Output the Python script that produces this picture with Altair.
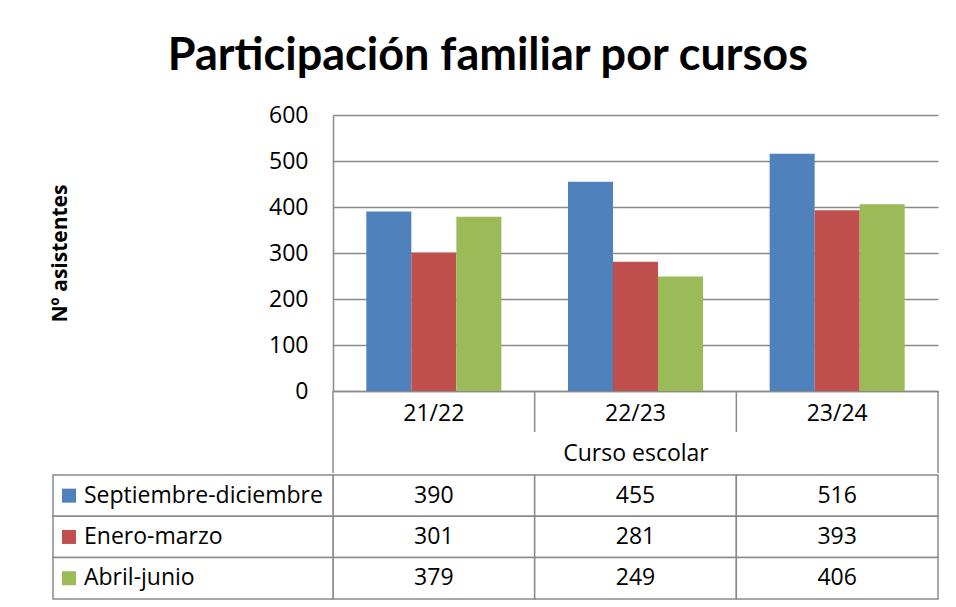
import altair as alt
import pandas as pd

# ---- data ----
cursos = ["21/22", "22/23", "23/24"]
series = ["Septiembre-diciembre", "Enero-marzo", "Abril-junio"]
sep_dic = [390, 455, 516]
ene_mar = [301, 281, 393]
abr_jun = [379, 249, 406]
colors = ["#4F81BD", "#C0504D", "#9BBB59"]
y_ticks = [0, 100, 200, 300, 400, 500, 600]

rows = []
for s, vals in zip(series, [sep_dic, ene_mar, abr_jun]):
    for c, v in zip(cursos, vals):
        rows.append({"curso": c, "serie": s, "valor": v})
df = pd.DataFrame(rows)
labels_df = pd.DataFrame({"serie": series})

FONT = "Open Sans"
GRID = "#8A8A8A"
W, H = 605, 276
ROW_H = 41.3
CAT_ROW = 41
CURSO_ROW = 41
LABEL_COL = 280

x_scale = alt.Scale(domain=cursos, paddingInner=0, paddingOuter=0)
color_scale = alt.Scale(domain=series, range=colors)

bars = alt.Chart(df).mark_bar().encode(
    x=alt.X("curso:N", sort=cursos, scale=x_scale,
            axis=alt.Axis(title="Curso escolar", labelAngle=0, labelFontSize=23,
                          labelFont=FONT, labelColor="black", ticks=False,
                          domain=True, domainColor=GRID, domainWidth=1.5,
                          labelPadding=11, titleFontSize=23, titleFont=FONT,
                          titleFontWeight="normal", titlePadding=17,
                          titleColor="black")),
    xOffset=alt.XOffset("serie:N", sort=series,
                        scale=alt.Scale(paddingInner=0, paddingOuter=0.74)),
    y=alt.Y("valor:Q", scale=alt.Scale(domain=[0, 600], nice=False),
            axis=alt.Axis(values=y_ticks, title="Nº asistentes", grid=True,
                          gridColor=GRID, gridWidth=1.5, domainColor=GRID,
                          domainWidth=1.5, ticks=False, labelPadding=25,
                          labelFontSize=23, labelFont=FONT, labelColor="black",
                          titleFont=FONT, titleFontSize=21, titleFontWeight="bold",
                          titleColor="black", titleX=-273, titleY=138,
                          titleAngle=270, titleAlign="center",
                          titleBaseline="middle")),
    color=alt.Color("serie:N", sort=series, scale=color_scale, legend=None),
)

rule_style = dict(color=GRID, strokeWidth=1.5)
seps = alt.Chart(pd.DataFrame({"curso": cursos[1:]})).mark_rule(**rule_style).encode(
    x=alt.X("curso:N", bandPosition=0, scale=x_scale),
    y=alt.value(H), y2=alt.value(H + CAT_ROW),
)
left_edge = alt.Chart(pd.DataFrame({"curso": cursos[:1]})).mark_rule(**rule_style).encode(
    x=alt.X("curso:N", bandPosition=0, scale=x_scale),
    y=alt.value(H), y2=alt.value(H + CAT_ROW + CURSO_ROW),
)
right_edge = alt.Chart(pd.DataFrame({"curso": cursos[-1:]})).mark_rule(**rule_style).encode(
    x=alt.X("curso:N", bandPosition=1, scale=x_scale),
    y=alt.value(H), y2=alt.value(H + CAT_ROW + CURSO_ROW),
)

top = alt.layer(bars, seps, left_edge, right_edge).properties(width=W, height=H)

# ---- data table ----
y_tab = alt.Y("serie:N", sort=series, scale=alt.Scale(domain=series, paddingInner=0, paddingOuter=0), axis=None)
x_tab = alt.X("curso:N", sort=cursos, scale=x_scale, axis=None)

cells = alt.Chart(df).mark_rect(fill="white", stroke=GRID, strokeWidth=1.5).encode(
    x=x_tab, y=y_tab)
values = alt.Chart(df).mark_text(fontSize=23, font=FONT, color="black").encode(
    x=x_tab, y=y_tab, text="valor:Q")
label_cells = alt.Chart(labels_df).mark_rect(fill="white", stroke=GRID, strokeWidth=1.5).encode(
    x=alt.value(-LABEL_COL), x2=alt.value(0), y=y_tab)
squares = alt.Chart(labels_df).mark_square(size=196, opacity=1).encode(
    x=alt.value(-264), y=y_tab,
    color=alt.Color("serie:N", sort=series, scale=color_scale, legend=None))
label_text = alt.Chart(labels_df).mark_text(align="left", fontSize=23, font=FONT, color="black").encode(
    x=alt.value(-249), y=y_tab, text="serie:N")

bottom = alt.layer(cells, values, label_cells, squares, label_text).properties(
    width=W, height=3 * ROW_H)

chart = alt.vconcat(top, bottom, spacing=0).properties(
    title=alt.TitleParams("Participación familiar por cursos", fontSize=45,
                          font="Lato", fontWeight="bold",
                          anchor="middle", color="black", offset=25, dx=-6),
    padding={"left": 41, "top": 26, "right": 5, "bottom": 0},
    background="white",
).configure_view(stroke=None).configure_concat(spacing=0)

chart.save("out.html", embed_options={"renderer": "svg", "actions": False})
